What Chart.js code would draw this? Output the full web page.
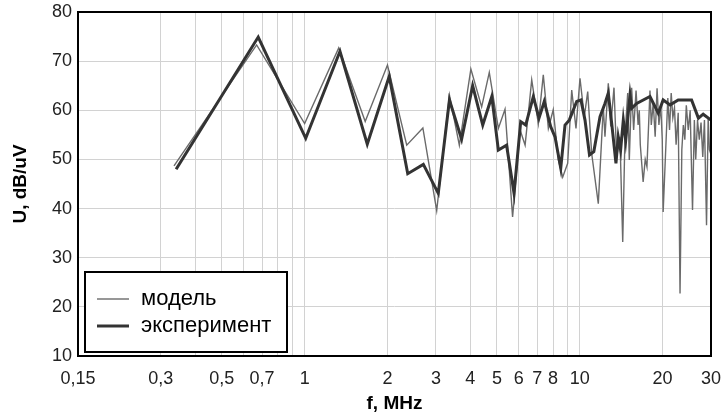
<!DOCTYPE html>
<html>
<head>
<meta charset="utf-8">
<title>U(f)</title>
<script src="https://cdn.jsdelivr.net/npm/chart.js@4.4.1/dist/chart.umd.min.js"></script>
<style>
    html, body { margin: 0; padding: 0; background: #fff; }
    #wrap { width: 723px; height: 416px; }
</style>
</head>
<body>
<div id="wrap"><canvas id="uChart" width="723" height="416"></canvas></div>
<script>
// frequency, MHz / level, dB/uV
const modelF = [0.335, 0.669, 1.0, 1.33, 1.66, 2.0, 2.35, 2.69, 3.02, 3.36, 3.65, 4.02, 4.40, 4.69,
    5.06, 5.35, 5.70, 6.07, 6.33, 6.69, 7.07, 7.37, 7.69, 8.01, 8.36, 8.67, 9.04, 9.35, 9.69,
    10.02, 10.39, 10.69, 11.05, 11.68, 12.18, 12.35, 12.70, 12.96, 13.32, 13.62, 14.0, 14.33,
    14.6, 14.94, 15.14, 15.44, 15.7, 16.02, 16.3, 16.46, 16.6, 17.0, 17.3, 17.55, 18.0, 18.2,
    18.5, 18.8, 19.1, 19.4, 19.7, 19.95, 20.1, 20.5, 20.9, 21.2, 21.5, 21.8, 22.1, 22.4, 22.8,
    23.15, 23.5, 23.8, 24.1, 24.4, 24.8, 25.2, 25.7, 26.1, 26.4, 26.8, 27.2, 27.6, 28.0, 28.4,
    28.9, 29.3, 29.6, 30.0];
const modelU = [48.7, 73.3, 57.3, 72.7, 57.7, 69.2, 52.9, 56.4, 39.6, 63.1, 52.9, 68.4, 60.7, 67.7,
    56.3, 60.2, 38.3, 56.0, 52.9, 66.2, 57.3, 67.2, 56.3, 60.1, 49.9, 46.4, 49.2, 64.1, 56.3,
    66.5, 58.7, 63.8, 51.2, 41.0, 60.7, 54.6, 65.5, 56.7, 64.6, 50.5, 54.6, 33.2,
    54.6, 63.5, 49.9, 64.6, 56.0, 64.0, 57.0, 60.0, 53.0, 45.4, 50.0, 48.5, 64.0, 57.0,
    61.5, 54.6, 64.5, 57.0, 61.0, 54.0, 39.3, 51.0, 62.5, 56.0, 63.5, 58.5, 60.5, 53.0, 59.5,
    22.7, 52.0, 57.0, 54.0, 61.0, 56.0, 60.0, 39.7, 58.0, 50.0, 58.0, 54.0, 57.5, 50.5, 58.0,
    36.6, 58.5, 52.0, 51.0];

const expF = [0.341, 0.678, 1.009, 1.344, 1.689, 2.03, 2.37, 2.70, 3.06, 3.36, 3.72, 4.08, 4.44,
    4.79, 5.06, 5.42, 5.77, 6.10, 6.36, 6.78, 7.11, 7.43, 7.84, 8.13, 8.53, 8.84, 9.16, 9.75,
    10.1, 10.45, 10.85, 11.25, 11.85, 12.35, 12.70, 13.07, 13.54, 13.80, 14.08, 14.40, 14.69,
    15.01, 15.23, 15.44, 16.11, 18.0, 19.3, 20.1, 21.3, 22.8, 25.5, 27.0, 28.1, 30.0];
const expU = [48.0, 74.9, 54.3, 72.0, 53.1, 66.9, 47.1, 49.0, 43.1, 62.1, 54.1, 65.0, 57.0,
    62.8, 51.9, 52.9, 43.1, 57.7, 57.0, 62.8, 58.4, 61.8, 56.7, 54.6, 48.2, 57.0, 58.0, 61.8,
    62.1, 58.0, 50.9, 51.6, 58.7, 61.4, 63.5, 57.3, 49.2, 54.6, 51.9, 58.0, 53.9,
    59.4, 63.1, 60.4, 61.4, 62.8, 59.4, 62.1, 61.1, 62.1, 62.1, 58.4, 59.2, 58.0];

// x grid lines and their labels
const freqTicks = [0.15, 0.3, 0.4, 0.5, 0.6, 0.7, 0.8, 0.9, 1, 2, 3, 4, 5, 6, 7, 8, 9, 10, 20, 30];
const freqLabels = ["0,15", "0,3", "", "0,5", "", "0,7", "", "", "1", "2", "3", "4", "5", "6", "7", "8", "", "10", "20", "30"];

function toPoints(xs, ys) {
    return xs.map(function (x, i) { return { x: x, y: ys[i] }; });
}

// frame round the plot + legend box inside it
const framePlugin = {
    id: "frame",
    afterDraw: function (chart) {
        const c = chart.ctx, a = chart.chartArea;
        c.save();
        c.strokeStyle = "#000";
        c.lineWidth = 2;
        c.strokeRect(a.left, a.top, a.right - a.left, a.bottom - a.top);

        // legend
        const bx = a.left + 7, by = a.bottom - 84, bw = 202, bh = 80;
        c.fillStyle = "#fff";
        c.fillRect(bx, by, bw, bh);
        c.strokeRect(bx, by, bw, bh);
        const ds = chart.data.datasets;
        c.font = "22px 'Liberation Sans', Arial, sans-serif";
        c.textBaseline = "middle";
        ds.forEach(function (d, i) {
            const y = by + 27 + i * 27;
            c.beginPath();
            c.strokeStyle = d.borderColor;
            c.lineWidth = d.borderWidth;
            c.moveTo(bx + 12, y);
            c.lineTo(bx + 44, y);
            c.stroke();
            c.fillStyle = "#000";
            c.fillText(d.label, bx + 56, y);
        });
        c.restore();
    }
};

Chart.defaults.font.family = "'Liberation Sans', Arial, sans-serif";
Chart.defaults.color = "#222";

new Chart(document.getElementById("uChart"), {
    type: "line",
    data: {
        datasets: [{
            label: "модель",
            data: toPoints(modelF, modelU),
            borderColor: "#6a6a6a",
            borderWidth: 1.4,
            order: 1
        }, {
            label: "эксперимент",
            data: toPoints(expF, expU),
            borderColor: "#333333",
            borderWidth: 3,
            order: 0
        }]
    },
    options: {
        responsive: false,
        devicePixelRatio: 1,
        animation: false,
        layout: { padding: { top: 12, right: 12, left: 0, bottom: 0 } },
        elements: { point: { radius: 0 }, line: { tension: 0 } },
        plugins: { legend: { display: false }, tooltip: { enabled: false } },
        scales: {
            x: {
                type: "logarithmic",
                min: 0.15,
                max: 30,
                afterBuildTicks: function (scale) {
                    scale.ticks = freqTicks.map(function (v) { return { value: v }; });
                },
                afterFit: function (scale) {
                    scale.height = 60;
                    scale.paddingLeft = 0;
                    scale.paddingRight = 0;
                },
                grid: { color: "#d2d2d2", drawTicks: false },
                border: { display: false },
                ticks: {
                    autoSkip: false,
                    maxRotation: 0,
                    padding: 12,
                    font: { size: 18 },
                    callback: function (value, index) { return freqLabels[index]; }
                },
                title: {
                    display: true,
                    text: "f, MHz",
                    color: "#000",
                    font: { size: 19, weight: "bold" },
                    padding: { top: 0, bottom: 1 }
                }
            },
            y: {
                min: 10,
                max: 80,
                afterFit: function (scale) {
                    scale.width = 78;
                    scale.paddingTop = 0;
                    scale.paddingBottom = 0;
                },
                grid: { color: "#d2d2d2", drawTicks: false },
                border: { display: false },
                ticks: {
                    stepSize: 5,
                    padding: 6,
                    font: { size: 18 },
                    callback: function (value) { return value % 10 === 0 ? value : ""; }
                },
                title: {
                    display: true,
                    text: "U, dB/uV",
                    color: "#000",
                    font: { size: 19, weight: "bold" },
                    padding: { top: 9, bottom: 0 }
                }
            }
        }
    },
    plugins: [framePlugin]
});
</script>
</body>
</html>
